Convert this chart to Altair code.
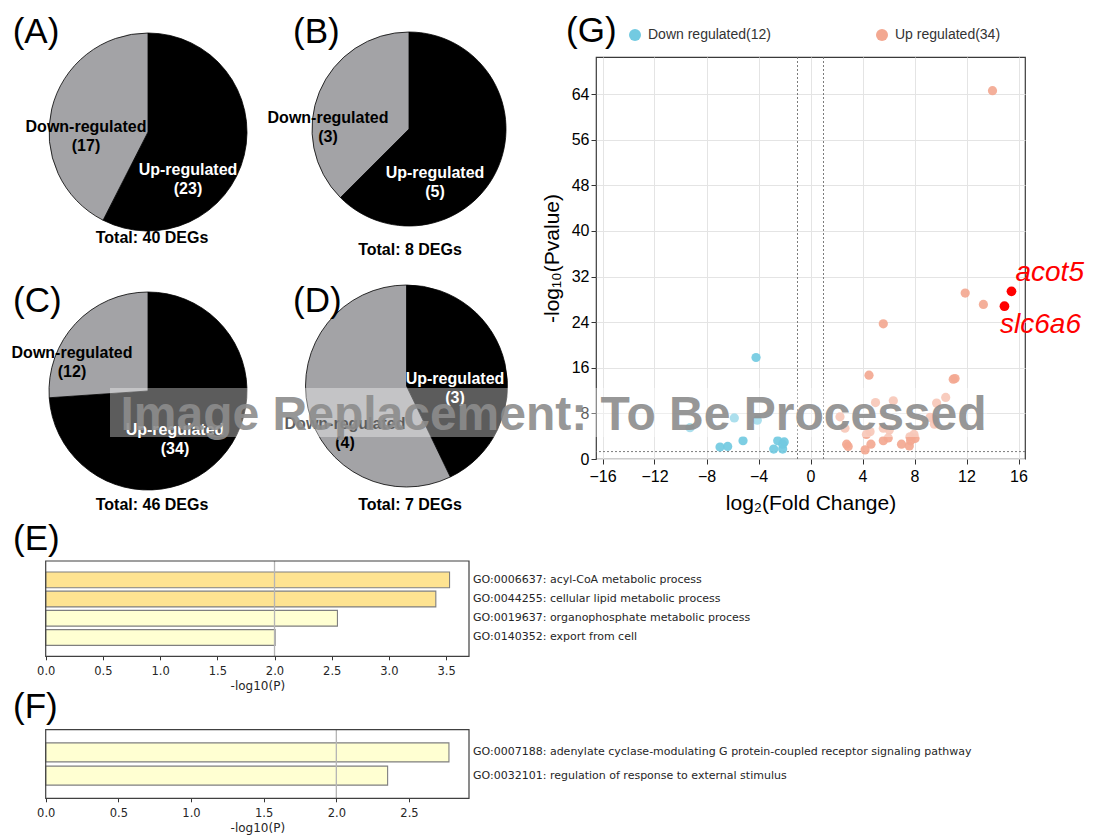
import altair as alt
import pandas as pd

# ---------------- data ----------------
pie_panels = ["A", "B", "C", "D"]
pie_up = [23, 5, 34, 3]
pie_down = [17, 3, 12, 4]
pie_categories = ["Up-regulated", "Down-regulated"]

e_terms = [
    "GO:0006637: acyl-CoA metabolic process",
    "GO:0044255: cellular lipid metabolic process",
    "GO:0019637: organophosphate metabolic process",
    "GO:0140352: export from cell",
]
e_values = [3.53, 3.41, 2.55, 2.005]
f_terms = [
    "GO:0007188: adenylate cyclase-modulating G protein-coupled receptor signaling pathway",
    "GO:0032101: regulation of response to external stimulus",
]
f_values = [2.775, 2.353]
enrich_threshold = [2.0]

down_x = [-4.19, -5.86, -4.09, -9.27, -6.96, -6.37, -5.19, -2.52, -2.02, -2.83, -2.14, -2.14]
down_y = [17.8, 7.2, 6.8, 5.5, 2.1, 2.2, 3.2, 3.2, 3.0, 1.75, 1.75, 2.6]
up_x = [14.0, 11.9, 13.3, 5.6, 4.5, 10.98, 11.12, 5.0, 6.37, 9.7, 10.4, 2.27, 2.65, 4.58,
        5.6, 6.06, 9.45, 9.53, 4.3, 7.96, 7.65, 2.78, 2.9, 4.65, 4.2, 5.6, 5.98, 7.0, 7.6,
        8.04, 7.7, 9.2]
up_y = [64.6, 29.1, 27.1, 23.7, 14.7, 14.0, 14.1, 9.9, 10.2, 9.8, 10.8, 7.4, 5.4, 4.8,
        5.4, 5.1, 7.0, 6.1, 4.3, 4.3, 3.9, 2.6, 2.2, 2.6, 1.6, 3.2, 3.7, 2.6, 2.3,
        3.6, 3.2, 7.3]
gene_names = ["acot5", "slc6a6"]
gene_x = [15.46, 14.92]
gene_y = [29.4, 26.8]
fc_thresholds = [-1, 1]
p_threshold = [1.3]

watermark = "Image Replacement: To Be Processed"

# ---------------- layout / style ----------------
OX, OY = 596.0, 57.0      # page position of the volcano plot area
PW, PH = 429, 402         # volcano plot area size


def rx(px):
    return px - OX


def ry(py):
    return py - OY


SANS = "Liberation Sans"
MPL = "DejaVu Sans"
UP_FILL, DOWN_FILL = "#000000", "#a3a3a6"
BLUE, SALMON, RED = "#72cae1", "#f3a891", "#ff0000"

pie_geom = {"A": (148, 132, 99), "B": (409, 129, 97), "C": (148, 391, 99), "D": (406.5, 386, 101)}
pie_label_pos = {
    "A": {"Up-regulated": (40, 38), "Down-regulated": (-62, -5), "total": (4, 106)},
    "B": {"Up-regulated": (26, 44), "Down-regulated": (-81, -11), "total": (1, 121)},
    "C": {"Up-regulated": (27, 39), "Down-regulated": (-76, -38), "total": (4, 114)},
    "D": {"Up-regulated": (48.5, -7), "Down-regulated": (-61.5, 38), "total": (3.5, 119)},
}
letter_pos = {"A": (12.7, 43.3), "B": (293, 43), "C": (13, 312), "D": (293, 312),
              "E": (13, 550), "F": (13, 718), "G": (566, 42)}


def pie_layer(panel, up, down):
    cx, cy, r = pie_geom[panel]
    counts = [up, down]
    df = pd.DataFrame({"cat": pie_categories, "n": counts, "ord": [0, 1]})
    df["label"] = [f"{c}\n({n})" for c, n in zip(pie_categories, counts)]
    base = alt.Chart(df)
    arc = base.mark_arc(radius=r, stroke="#000000", strokeWidth=0.8).encode(
        theta=alt.Theta("n:Q", stack=True),
        order=alt.Order("ord:Q"),
        detail="cat:N",
        color=alt.condition(alt.datum.cat == pie_categories[0], alt.value(UP_FILL), alt.value(DOWN_FILL)),
        x=alt.value(rx(cx)),
        y=alt.value(ry(cy)),
    )
    layers = [arc]
    for cat, col in zip(pie_categories, ["#ffffff", "#000000"]):
        dx, d1 = pie_label_pos[panel][cat]
        layers.append(
            base.transform_filter(alt.datum.cat == cat)
            .mark_text(align="center", baseline="top", lineBreak="\n", lineHeight=18.5,
                       font=SANS, fontSize=16, fontWeight="bold", color=col)
            .encode(text="label:N", x=alt.value(rx(cx + dx)), y=alt.value(ry(cy + d1 - 7.8)))
        )
    tdx, tdy = pie_label_pos[panel]["total"]
    layers.append(
        base.transform_aggregate(total="sum(n)")
        .transform_calculate(label='"Total: " + datum.total + " DEGs"')
        .mark_text(align="center", baseline="middle", font=SANS, fontSize=16,
                   fontWeight="bold", color="#000000")
        .encode(text="label:N", x=alt.value(rx(cx + tdx)), y=alt.value(ry(cy + tdy)))
    )
    return alt.layer(*layers)


def letter(ch):
    px, py = letter_pos[ch]
    return alt.Chart(pd.DataFrame({"t": [f"({ch})"]})).mark_text(
        align="left", baseline="alphabetic", font=SANS, fontSize=35, color="#000000"
    ).encode(text="t:N", x=alt.value(rx(px)), y=alt.value(ry(py)))


def enrich_layer(terms, values, x_max, ticks, top, bottom):
    left, right = 45.7, 469.0
    df = pd.DataFrame({"term": terms, "value": values})
    xs = alt.Scale(domain=[0, x_max], range=[rx(left), rx(right)], nice=False, zero=False)
    ys = alt.Scale(type="band", domain=terms, range=[ry(top), ry(bottom)],
                   paddingInner=0.18, paddingOuter=0.57)
    xaxis = alt.Axis(orient="bottom", offset=ry(bottom) - PH, values=ticks, format=".1f",
                     title="-log10(P)", grid=False, domain=False, tickSize=3.5,
                     tickColor="#333333", tickWidth=1, labelFont=MPL, labelFontSize=11.5,
                     labelColor="#262626", labelPadding=5.7, labelFlush=False,
                     titleFont=MPL, titleFontSize=12, titleFontWeight="normal",
                     titleColor="#262626", titlePadding=3.0)
    X = alt.X("value:Q", scale=xs, axis=xaxis)
    Y = alt.Y("term:N", scale=ys, axis=None)
    bars = alt.Chart(df).mark_bar(stroke="#7f7f7f", strokeWidth=1.1).encode(
        x=X, y=Y,
        color=alt.condition(alt.datum.value > 3, alt.value("#fee391"), alt.value("#ffffd2")),
    )
    thr = alt.Chart(pd.DataFrame({"value": enrich_threshold})).mark_rule(
        color="#b5b5b5", strokeWidth=1.3
    ).encode(x=X, y=alt.value(ry(top)), y2=alt.value(ry(bottom)))
    labels = alt.Chart(df).mark_text(
        align="left", baseline="middle", font=MPL, fontSize=11, color="#262626"
    ).encode(y=Y, x=alt.value(rx(right + 4)), text="term:N")
    frame = alt.Chart(pd.DataFrame({"t": [0]})).mark_rect(
        fillOpacity=0, stroke="#404040", strokeWidth=1.2
    ).encode(x=alt.value(rx(left)), x2=alt.value(rx(right)),
             y=alt.value(ry(top)), y2=alt.value(ry(bottom)))
    return alt.layer(bars, thr, labels, frame)


# ---------------- volcano ----------------
down_lab = f"Down regulated({len(down_x)})"
up_lab = f"Up regulated({len(up_x) + len(gene_x)})"
vol_df = pd.DataFrame({
    "lfc": down_x + up_x,
    "nlp": down_y + up_y,
    "group": [down_lab] * len(down_x) + [up_lab] * len(up_x),
})
hi_df = pd.DataFrame({"gene": gene_names, "lfc": gene_x, "nlp": gene_y})

gxs = alt.Scale(domain=[-16.5, 16.5], nice=False, zero=False)
gys = alt.Scale(domain=[0, 70.5], nice=False, zero=False)
gx_axis = alt.Axis(orient="bottom", values=list(range(-16, 17, 4)), title="log₂(Fold Change)",
                   grid=True, gridColor="#e4e4e4", gridWidth=1, domain=False, tickSize=5,
                   tickColor="#333333", labelFont=SANS, labelFontSize=16, labelColor="#000000",
                   labelPadding=4, labelFlush=False, titleFont=SANS, titleFontSize=21,
                   titleFontWeight="normal", titleColor="#000000", titlePadding=8)
gy_axis = alt.Axis(orient="left", values=list(range(0, 65, 8)), title="-log₁₀(Pvalue)",
                   grid=True, gridColor="#e4e4e4", gridWidth=1, domain=False, tickSize=5,
                   tickColor="#333333", labelFont=SANS, labelFontSize=16, labelColor="#000000",
                   labelPadding=2, labelFlush=False, titleFont=SANS, titleFontSize=21,
                   titleFontWeight="normal", titleColor="#000000", titlePadding=9)
GX = alt.X("lfc:Q", scale=gxs, axis=gx_axis)
GY = alt.Y("nlp:Q", scale=gys, axis=gy_axis)

legend = alt.Legend(orient="none", legendX=rx(628), legendY=ry(28), direction="horizontal",
                    title=None, labelFont=SANS, labelFontSize=14, labelColor="#333333",
                    symbolType="circle", symbolSize=145, symbolStrokeWidth=0, symbolOpacity=1,
                    columnPadding=104, padding=0, labelOffset=6)

thr_style = dict(color="#6d6d6d", strokeDash=[2, 2], strokeWidth=0.9)
vrule = alt.Chart(pd.DataFrame({"lfc": fc_thresholds})).mark_rule(**thr_style).encode(x=GX)
hrule = alt.Chart(pd.DataFrame({"nlp": p_threshold})).mark_rule(**thr_style).encode(y=GY)
pts = alt.Chart(vol_df).mark_circle(size=85, opacity=0.92).encode(
    x=GX, y=GY,
    color=alt.Color("group:N", scale=alt.Scale(domain=[down_lab, up_lab], range=[BLUE, SALMON]),
                    legend=legend),
)
hi = alt.Chart(hi_df).mark_circle(size=95, color=RED, opacity=1).encode(x=GX, y=GY)
lab_style = dict(align="left", baseline="alphabetic", font=SANS, fontSize=28,
                 fontStyle="italic", color=RED)
lab1 = alt.Chart(hi_df).transform_filter(alt.datum.gene == gene_names[0]).mark_text(
    dx=4, dy=-10.6, **lab_style).encode(x=GX, y=GY, text="gene:N")
lab2 = alt.Chart(hi_df).transform_filter(alt.datum.gene == gene_names[1]).mark_text(
    dx=-4.4, dy=27, **lab_style).encode(x=GX, y=GY, text="gene:N")
volcano = alt.layer(vrule, hrule, pts, hi, lab1, lab2)

# ---------------- watermark ----------------
wm_df = pd.DataFrame({"t": [watermark]})
wm_rect = alt.Chart(wm_df).mark_rect(color="#ffffff", opacity=0.36).encode(
    x=alt.value(rx(110)), x2=alt.value(rx(987)), y=alt.value(ry(388)), y2=alt.value(ry(437)))
wm_text = alt.Chart(wm_df).mark_text(
    align="center", baseline="alphabetic", font=SANS, fontSize=48, fontWeight="bold",
    color="#8c8c8c", opacity=0.9
).encode(text="t:N", x=alt.value(rx(553.5)), y=alt.value(ry(430)))

pies = [pie_layer(p, u, d) for p, u, d in zip(pie_panels, pie_up, pie_down)]
e_layer = enrich_layer(e_terms, e_values, 3.70, [0, 0.5, 1.0, 1.5, 2.0, 2.5, 3.0, 3.5], 561, 656.3)
f_layer = enrich_layer(f_terms, f_values, 2.913, [0, 0.5, 1.0, 1.5, 2.0, 2.5], 729.7, 798.3)
letters = [letter(c) for c in ["A", "B", "C", "D", "E", "F", "G"]]

chart = alt.layer(
    *pies, e_layer, f_layer, volcano, *letters, wm_rect, wm_text
).resolve_scale(
    x="independent", y="independent", theta="independent", color="independent"
).properties(
    width=PW, height=PH,
    padding={"left": OX - 8, "top": OY - 8, "right": 1086 - (OX + PW), "bottom": 836 - (OY + PH)},
    autosize=alt.AutoSizeParams(type="none"),
    background="white",
).configure_view(stroke="#3a3a3a", strokeWidth=1.2)

chart.save("out.html", embed_options={"renderer": "svg", "actions": False})
